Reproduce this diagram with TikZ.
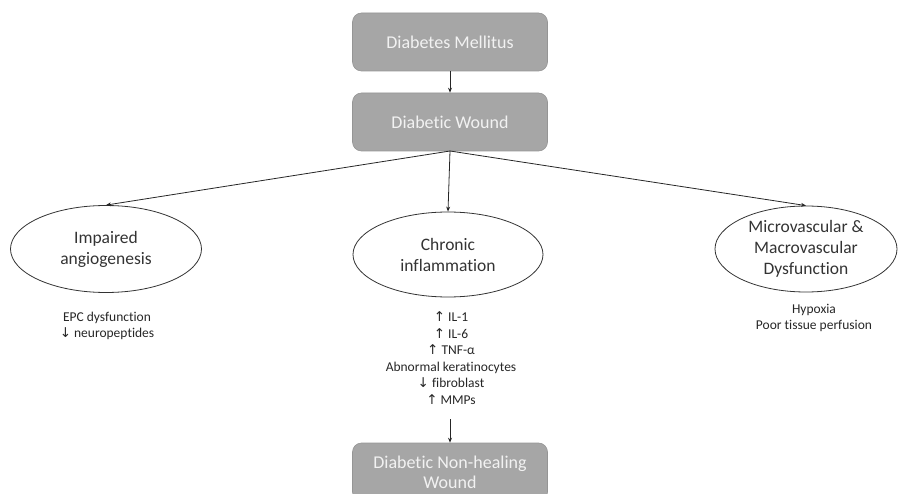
\documentclass[tikz,border=0pt]{standalone}
\usepackage{fontspec}
\setmainfont{Carlito}[RawFeature={-liga}]
\newfontfamily\arrowfont{DejaVu Sans}
\usetikzlibrary{shapes.geometric,arrows.meta}
\definecolor{boxgray}{RGB}{166,166,166}
\definecolor{boxtext}{RGB}{242,242,242}
\newcommand{\upar}{{\arrowfont\fontsize{13.5}{14}\selectfont ↑}}
\newcommand{\dnar}{{\arrowfont\fontsize{13.5}{14}\selectfont ↓}}
\begin{document}
\begin{tikzpicture}[x=1pt,y=-1pt,
  graybox/.style={draw=boxgray!90!black, line width=0.6pt, fill=boxgray, rounded corners=9pt,
    minimum width=195pt, minimum height=58pt, inner sep=0pt, align=center,
    text=boxtext, font=\fontsize{18}{20}\selectfont},
  oval/.style={draw=black!80, line width=0.8pt, ellipse, inner sep=0pt, align=center,
    font=\fontsize{17.5}{21}\selectfont, text=black!80},
  note/.style={align=center, font=\fontsize{13.5}{16.5}\selectfont, text=black!85, inner sep=0pt},
  conn/.style={draw=black!85, line width=0.8pt, -{Stealth[length=5pt,width=4pt]}}]
\useasboundingbox (0,0) rectangle (899,494);
\clip (0,0) rectangle (899,494);
\node[graybox] (dm) at (450,42) {Diabetes Mellitus};
\node[graybox] (dw) at (450,122) {Diabetic Wound};
\node[oval, minimum width=191pt, minimum height=87pt] (ia) at (106,249) {Impaired\\angiogenesis};
\node[oval, minimum width=190pt, minimum height=85pt] (ci) at (448,254.5) {Chronic\\inflammation};
\node[oval, minimum width=182pt, minimum height=86pt] (mv) at (806,249) {Microvascular \&\\Macrovascular\\Dysfunction};
\node[note] (n1) at (107,326) {EPC dysfunction\\\dnar\ neuropeptides};
\node[note] (n2) at (451,358) {\upar\ IL-1\\\upar\ IL-6\\\upar\ TNF-α\\Abnormal keratinocytes\\\dnar\ fibroblast\\\upar\ MMPs};
\node[note] (n3) at (814,318) {Hypoxia\\Poor tissue perfusion};
\node[graybox] (nh) at (450,472) {Diabetic Non-healing\\Wound};
\coordinate (src) at (450,151);
\coordinate (dn) at (450,419);
\draw[conn] (dm) -- (dw);
\draw[conn] (src) -- (ia.north);
\draw[conn] (src) -- (ci.north);
\draw[conn] (src) -- (mv.north);
\draw[conn] (dn) -- (nh);
\end{tikzpicture}
\end{document}
